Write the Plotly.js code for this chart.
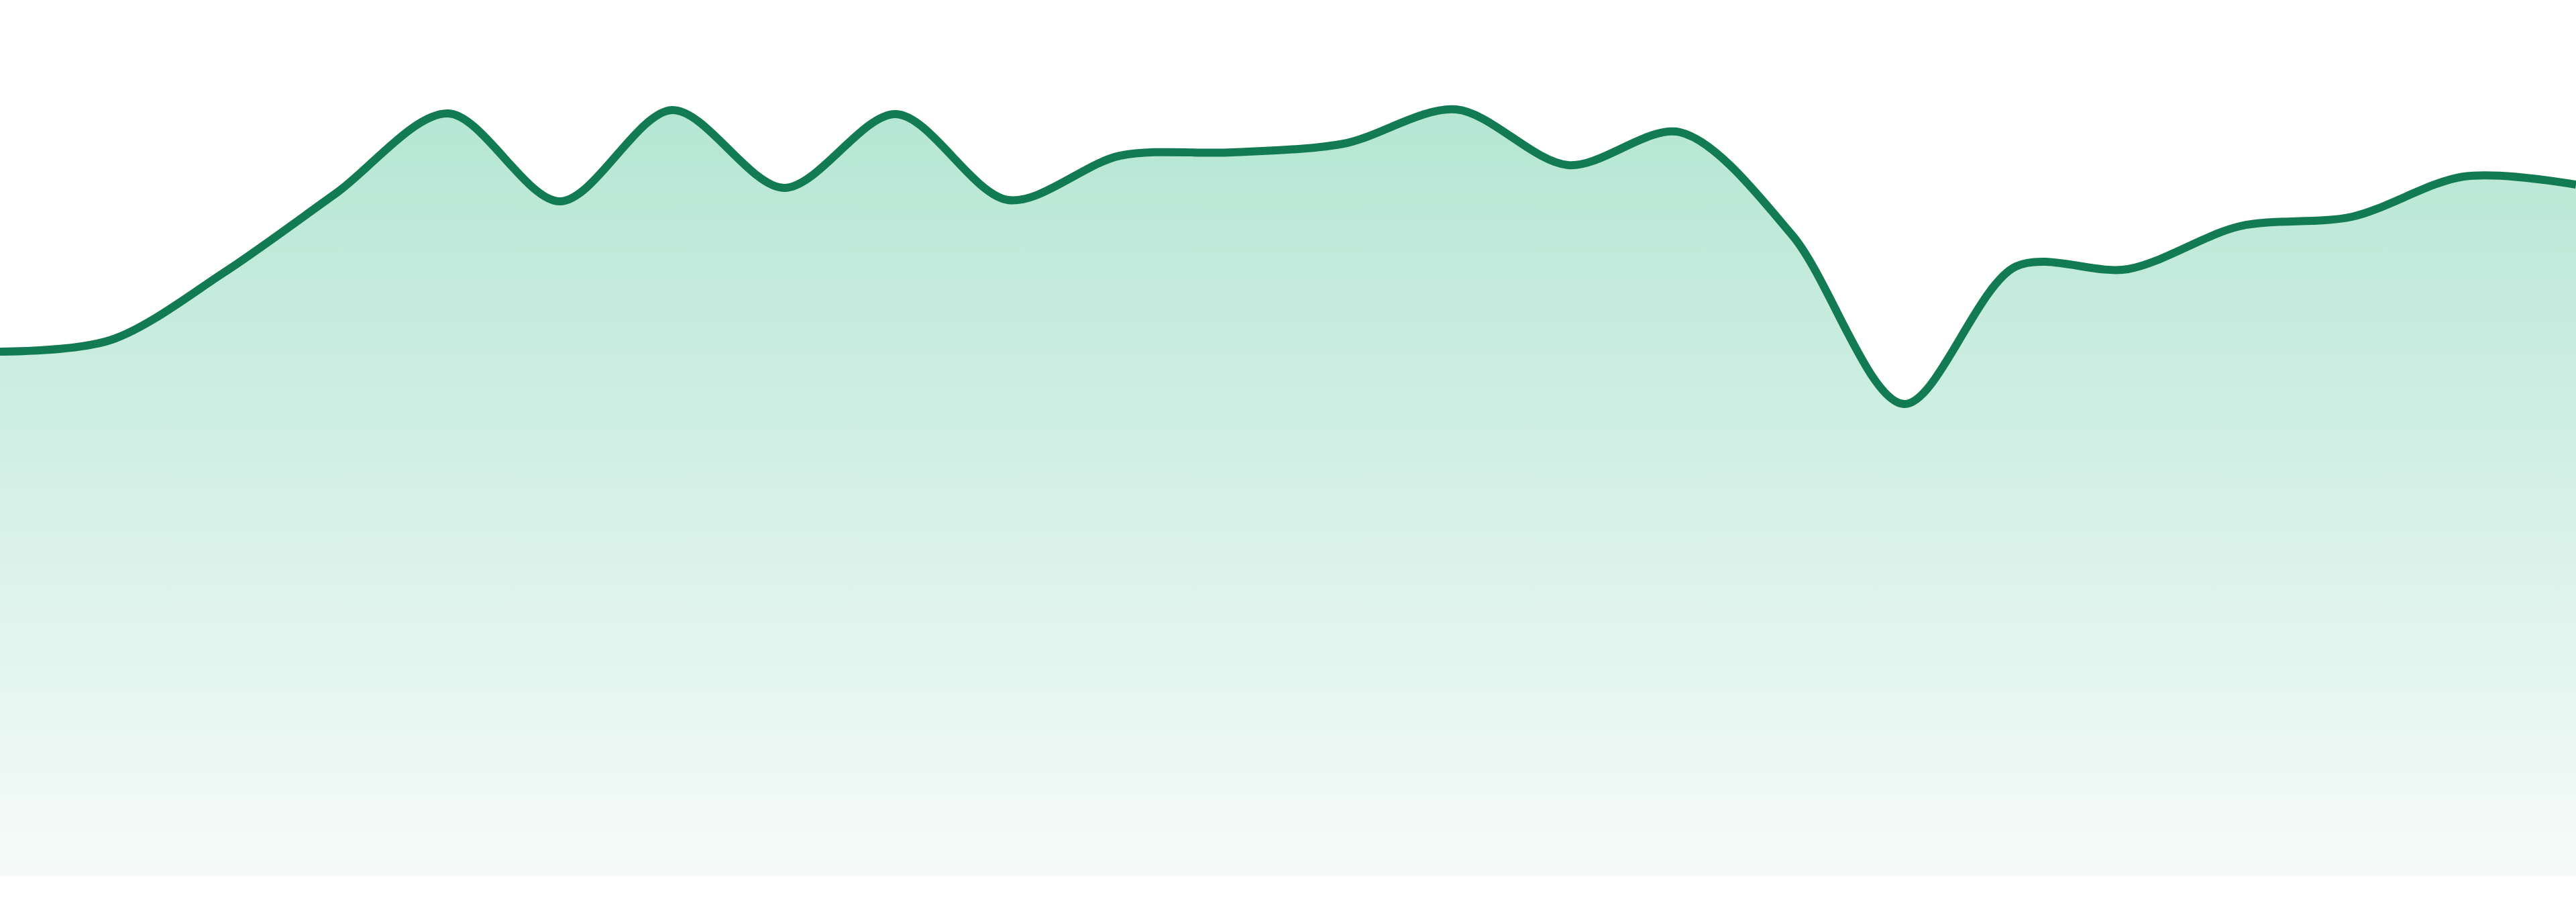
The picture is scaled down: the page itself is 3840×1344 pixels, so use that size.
<!DOCTYPE html>
<html>
<head>
<meta charset="utf-8">
<script src="https://cdn.plot.ly/plotly-3.0.1.min.js"></script>
<style>
  html, body { margin: 0; padding: 0; background: #ffffff; }
  #chart { width: 3840px; height: 1344px; }
</style>
</head>
<body>
<div id="chart"></div>
<script>
// Series data
const PERIODS = [0, 1, 2, 3, 4, 5, 6, 7, 8, 9, 10, 11, 12, 13, 14, 15, 16, 17, 18, 19, 20, 21, 22, 23];
const VALUES  = [78.1, 79.9, 89.9, 101.7, 113.6, 100.5, 114.1, 102.5, 113.5, 100.7, 107.3, 107.8,
                 109.1, 114.2, 105.9, 110.8, 95.5, 70.3, 90.8, 90.4, 96.8, 98.2, 104.2, 103.0];

const LINE_COLOR = '#137b53';
const Y_MAX = 130.5;

const trace = {
  type: 'scatter',
  mode: 'lines',
  x: PERIODS,
  y: VALUES,
  line: { color: LINE_COLOR, width: 12, shape: 'spline', smoothing: 0.9 },
  fill: 'tozeroy',
  fillgradient: {
    type: 'vertical',
    start: 0,
    stop: 114,
    colorscale: [[0, 'rgba(246,251,250,1)'], [1, 'rgba(181,230,212,1)']],
  },
  hoverinfo: 'skip',
};

const layout = {
  width: 3840,
  height: 1344,
  paper_bgcolor: '#ffffff',
  plot_bgcolor: '#ffffff',
  margin: { l: 0, r: 0, t: 0, b: 39 },
  showlegend: false,
  xaxis: { visible: false, range: [0, 23], fixedrange: true },
  yaxis: { visible: false, range: [0, Y_MAX], fixedrange: true },
};

Plotly.newPlot('chart', [trace], layout, { displayModeBar: false, staticPlot: true });
</script>
</body>
</html>
